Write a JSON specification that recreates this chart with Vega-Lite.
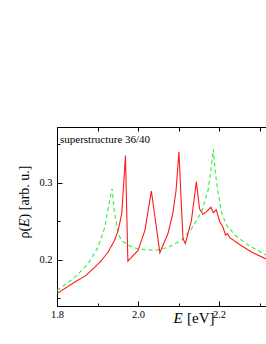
{
  "$schema": "https://vega.github.io/schema/vega-lite/v6.json",
  "width": 209,
  "height": 179,
  "autosize": "none",
  "padding": {"left": 57, "top": 127, "right": 0, "bottom": 38},
  "background": "white",
  "config": {
    "view": {"stroke": "black", "strokeWidth": 1},
    "axis": {
      "labelFont": "Liberation Serif",
      "titleFont": "Liberation Serif",
      "labelFontSize": 10.5,
      "labelColor": "black",
      "titleColor": "black",
      "titleFontWeight": "normal",
      "domainColor": "black",
      "tickColor": "black",
      "grid": false
    },
    "title": {"font": "Liberation Serif", "fontWeight": "normal", "color": "black"}
  },
  "title": {
    "text": "superstructure 36/40",
    "fontSize": 11,
    "anchor": "start",
    "frame": "group",
    "baseline": "alphabetic",
    "offset": -27,
    "dx": 3
  },
  "data": {
    "values": [
      {"E": 1.8, "rho": 0.156, "s": "red"},
      {"E": 1.844, "rho": 0.171, "s": "red"},
      {"E": 1.87, "rho": 0.179, "s": "red"},
      {"E": 1.893, "rho": 0.19, "s": "red"},
      {"E": 1.91, "rho": 0.199, "s": "red"},
      {"E": 1.926, "rho": 0.21, "s": "red"},
      {"E": 1.942, "rho": 0.225, "s": "red"},
      {"E": 1.951, "rho": 0.238, "s": "red"},
      {"E": 1.96, "rho": 0.26, "s": "red"},
      {"E": 1.969, "rho": 0.335, "s": "red"},
      {"E": 1.975, "rho": 0.198, "s": "red"},
      {"E": 2.0, "rho": 0.212, "s": "red"},
      {"E": 2.017, "rho": 0.238, "s": "red"},
      {"E": 2.033, "rho": 0.289, "s": "red"},
      {"E": 2.054, "rho": 0.209, "s": "red"},
      {"E": 2.074, "rho": 0.234, "s": "red"},
      {"E": 2.086, "rho": 0.26, "s": "red"},
      {"E": 2.094, "rho": 0.29, "s": "red"},
      {"E": 2.101, "rho": 0.34, "s": "red"},
      {"E": 2.111, "rho": 0.227, "s": "red"},
      {"E": 2.117, "rho": 0.221, "s": "red"},
      {"E": 2.132, "rho": 0.251, "s": "red"},
      {"E": 2.144, "rho": 0.301, "s": "red"},
      {"E": 2.152, "rho": 0.266, "s": "red"},
      {"E": 2.16, "rho": 0.259, "s": "red"},
      {"E": 2.168, "rho": 0.262, "s": "red"},
      {"E": 2.18, "rho": 0.268, "s": "red"},
      {"E": 2.186, "rho": 0.261, "s": "red"},
      {"E": 2.193, "rho": 0.265, "s": "red"},
      {"E": 2.202, "rho": 0.249, "s": "red"},
      {"E": 2.21, "rho": 0.242, "s": "red"},
      {"E": 2.216, "rho": 0.232, "s": "red"},
      {"E": 2.221, "rho": 0.234, "s": "red"},
      {"E": 2.226, "rho": 0.229, "s": "red"},
      {"E": 2.247, "rho": 0.221, "s": "red"},
      {"E": 2.28, "rho": 0.21, "s": "red"},
      {"E": 2.316, "rho": 0.201, "s": "red"},
      {"E": 1.8, "rho": 0.16, "s": "green"},
      {"E": 1.844, "rho": 0.177, "s": "green"},
      {"E": 1.877, "rho": 0.195, "s": "green"},
      {"E": 1.901, "rho": 0.216, "s": "green"},
      {"E": 1.918, "rho": 0.242, "s": "green"},
      {"E": 1.93, "rho": 0.277, "s": "green"},
      {"E": 1.936, "rho": 0.292, "s": "green"},
      {"E": 1.942, "rho": 0.26, "s": "green"},
      {"E": 1.951, "rho": 0.234, "s": "green"},
      {"E": 1.959, "rho": 0.225, "s": "green"},
      {"E": 1.975, "rho": 0.219, "s": "green"},
      {"E": 2.0, "rho": 0.214, "s": "green"},
      {"E": 2.041, "rho": 0.212, "s": "green"},
      {"E": 2.074, "rho": 0.216, "s": "green"},
      {"E": 2.107, "rho": 0.225, "s": "green"},
      {"E": 2.132, "rho": 0.24, "s": "green"},
      {"E": 2.157, "rho": 0.262, "s": "green"},
      {"E": 2.173, "rho": 0.29, "s": "green"},
      {"E": 2.181, "rho": 0.32, "s": "green"},
      {"E": 2.186, "rho": 0.343, "s": "green"},
      {"E": 2.191, "rho": 0.312, "s": "green"},
      {"E": 2.198, "rho": 0.286, "s": "green"},
      {"E": 2.206, "rho": 0.262, "s": "green"},
      {"E": 2.218, "rho": 0.245, "s": "green"},
      {"E": 2.239, "rho": 0.232, "s": "green"},
      {"E": 2.272, "rho": 0.219, "s": "green"},
      {"E": 2.316, "rho": 0.206, "s": "green"}
    ]
  },
  "layer": [
    {
      "transform": [{"filter": "datum.s === 'green'"}],
      "mark": {"type": "line", "color": "#33ee33", "strokeWidth": 1.1, "strokeDash": [4, 3], "clip": true},
      "encoding": {
        "x": {
          "field": "E", "type": "quantitative",
          "scale": {"domain": [1.8, 2.316], "nice": false, "zero": false},
          "axis": {
            "orient": "bottom", "values": [1.8, 2.0, 2.2], "format": ".1f",
            "tickSize": -5, "labelPadding": 8, "labelFlush": false,
            "title": "E", "titleFontSize": 15, "titleFontStyle": "italic",
            "titleX": 116, "titleY": 16, "titleAlign": "left", "titleBaseline": "alphabetic"
          }
        },
        "y": {
          "field": "rho", "type": "quantitative",
          "scale": {"domain": [0.14, 0.372], "nice": false, "zero": false},
          "axis": {
            "orient": "left", "values": [0.2, 0.3], "format": ".1f",
            "tickSize": -5, "labelPadding": 10, "labelFlush": false,
            "title": "ρ(", "titleFontSize": 14, "titleAngle": -90,
            "titleX": -29, "titleY": 111, "titleAlign": "left", "titleBaseline": "alphabetic"
          }
        }
      }
    },
    {
      "transform": [{"filter": "datum.s === 'red'"}],
      "mark": {"type": "line", "color": "#ff1a1a", "strokeWidth": 1.1, "clip": true},
      "encoding": {
        "x": {
          "field": "E", "type": "quantitative",
          "axis": {
            "orient": "bottom", "values": [1.9, 2.1, 2.3], "labels": false, "domain": false,
            "tickSize": -3,
            "title": "[eV]", "titleFontSize": 15,
            "titleX": 157, "titleY": 16, "titleAlign": "right", "titleBaseline": "alphabetic"
          }
        },
        "y": {
          "field": "rho", "type": "quantitative",
          "axis": {
            "orient": "left", "values": [0.15, 0.25, 0.35], "labels": false, "domain": false,
            "tickSize": -3,
            "title": "E", "titleFontSize": 14, "titleFontStyle": "italic", "titleAngle": -90,
            "titleX": -29, "titleY": 99.4, "titleAlign": "left", "titleBaseline": "alphabetic"
          }
        }
      }
    },
    {
      "transform": [{"filter": "datum.s === 'red'"}],
      "mark": {"type": "line", "strokeOpacity": 0},
      "encoding": {
        "x": {
          "field": "E", "type": "quantitative",
          "axis": {
            "orient": "top", "values": [1.8, 1.9, 2.0, 2.1, 2.2, 2.3], "labels": false, "domain": false,
            "tickSize": -4, "title": null
          }
        },
        "y": {
          "field": "rho", "type": "quantitative",
          "axis": {
            "orient": "left", "labels": false, "domain": false, "ticks": false,
            "title": ") [arb. u.]", "titleFontSize": 14, "titleAngle": -90,
            "titleX": -29, "titleY": 90.9, "titleAlign": "left", "titleBaseline": "alphabetic"
          }
        }
      }
    }
  ],
  "resolve": {"axis": {"x": "independent", "y": "independent"}}
}
